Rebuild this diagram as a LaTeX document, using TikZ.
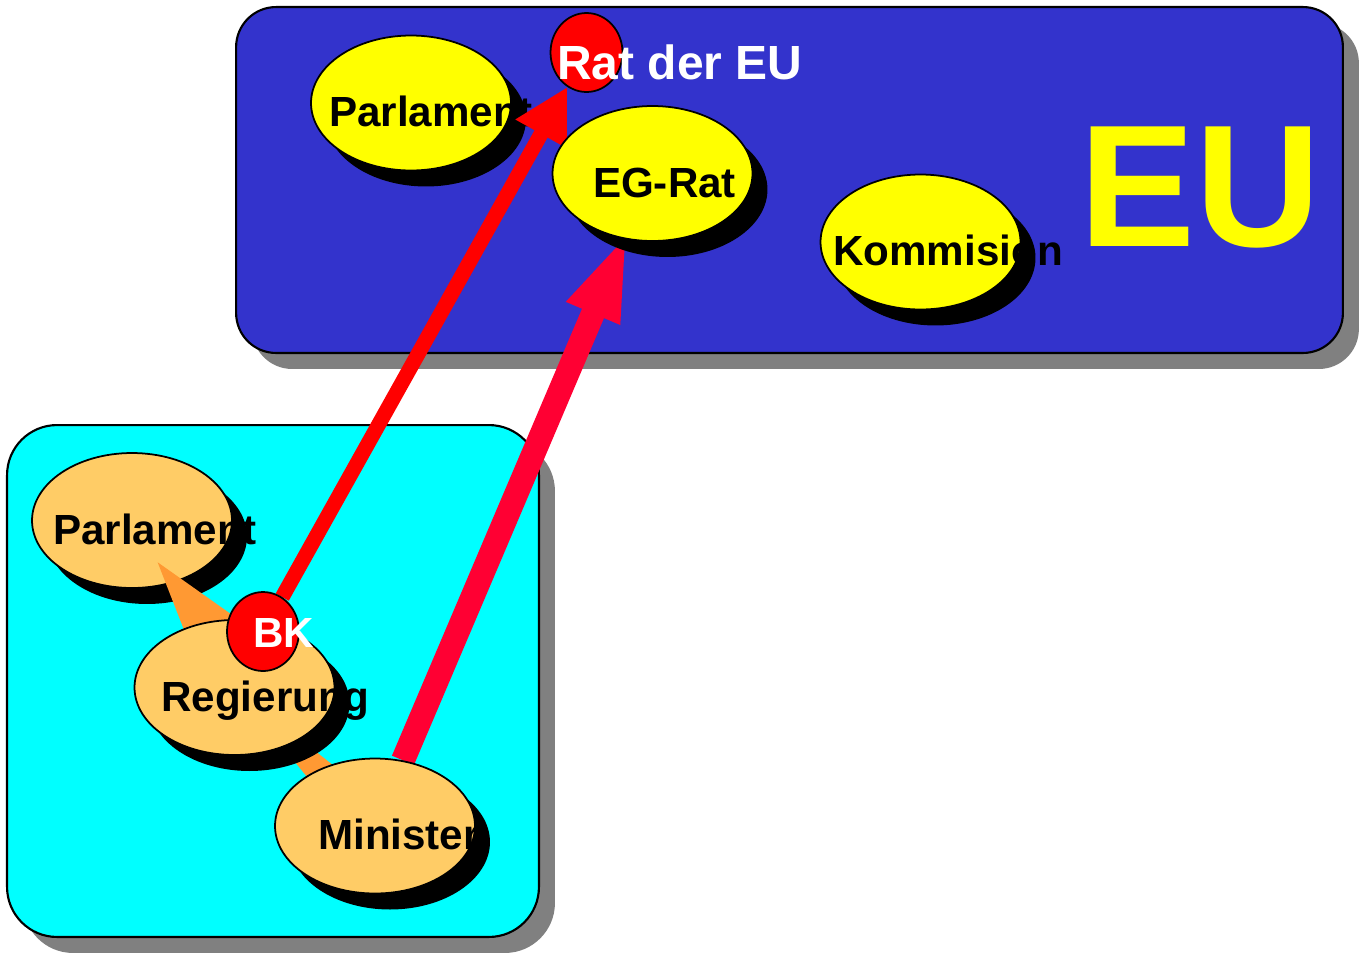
\documentclass[tikz,border=0pt]{standalone}
\usepackage{fontspec}
\setmainfont{Liberation Sans}
\usetikzlibrary{shapes.geometric}
\usetikzlibrary{shadows}
\usetikzlibrary{calc}
\usetikzlibrary{arrows.meta}
\definecolor{eublue}{HTML}{3333CC}
\definecolor{decyan}{HTML}{00FFFF}
\definecolor{euyellow}{HTML}{FFFF00}
\definecolor{natcol}{HTML}{FFCC66}
\definecolor{wedgeor}{HTML}{FF9933}
\definecolor{bkred}{HTML}{FF0000}
\definecolor{minred}{HTML}{FF0033}
\definecolor{boxgray}{HTML}{808080}
\pgfdeclarelayer{bg}
\pgfdeclarelayer{low}
\pgfdeclarelayer{mid}
\pgfsetlayers{bg,low,mid,main}
\tikzset{
    box/.style = {rectangle, draw=black, line width=1.2pt, inner sep=0pt, drop shadow={shadow xshift=0.32cm, shadow yshift=-0.32cm, fill=boxgray, opacity=1}},
    blob/.style = {ellipse, draw=black, line width=1pt, inner sep=0pt, minimum width=4cm, minimum height=2.7cm, drop shadow={shadow xshift=0.3cm, shadow yshift=-0.32cm, fill=black, opacity=1}},
    blobeu/.style = {blob, fill=euyellow},
    blobde/.style = {blob, fill=natcol},
    ratdot/.style = {ellipse, draw=black, line width=1pt, fill=bkred, inner sep=0pt, minimum width=1.44cm, minimum height=1.58cm},
    lbl/.style = {inner sep=0pt, text height=17pt, text depth=0pt, yshift=-0.18cm, font=\fontsize{24}{28}\selectfont\bfseries},
    wlbl/.style = {inner sep=0pt, anchor=base west, text=white, font=\fontsize{#1}{28}\selectfont\bfseries},
    eulbl/.style = {inner sep=0pt, anchor=base, text=euyellow, font=\fontsize{99}{110}\selectfont\bfseries},
    orwedge/.style = {fill=wedgeor},
    edger/.style = {-{Triangle[length=30.6pt,width=31.2pt]}, line width=8.5pt, bkred},
    edgem/.style = {-{Triangle[length=51.6pt,width=28.9pt]}, line width=13.6pt, minred}
}

\begin{document}
\begin{tikzpicture}[x=0.02cm,y=-0.02cm]
\path[use as bounding box] (0,0) rectangle (1364,954);
%
\begin{pgfonlayer}{bg}
\node[box, fill=eublue, rounded corners=0.8cm, minimum width=22.14cm, minimum height=6.92cm] at (789.5,180) (eu) {};
\node[box, fill=decyan, rounded corners=1cm, minimum width=10.64cm, minimum height=10.24cm] at (273,681) (de) {};
\end{pgfonlayer}
%
\begin{pgfonlayer}{low}
\node[blobeu, label={[lbl,xshift=0.4cm]center:Parlament}] at (411,103) (eparl) {};
\node[blobde, label={[lbl,xshift=0.46cm]center:Parlament}] at (132,520.5) (parl) {};
\end{pgfonlayer}
%
\node[blobeu, label={[lbl,xshift=0.24cm]center:EG-Rat}] at (652.5,173.5) (egrat) {};
\node[blobeu, label={[lbl,xshift=0.55cm]center:Kommision}] at (920.5,242) (komm) {};
\node[ratdot] at (586.5,52.5) (rat) {};
\node[wlbl=27.3] at (557,79) (ratlbl) {Rat der EU};
\node[eulbl] at (1200,246) (eulbl) {EU};
\node[blobde, label={[lbl,xshift=0.62cm]center:Regierung}] at (234.5,687.5) (reg) {};
\node[blobde, label={[lbl,xshift=0.48cm]center:Minister}] at (375,826) (mini) {};
\node[ratdot] at (263,631.5) (bk) {};
\node[wlbl=24] at (253,647) (bklbl) {BK};
%
\begin{pgfonlayer}{mid}
\fill[orwedge] ($(parl)!0.25!(reg)$) -- ($(reg)+(48,-37)$) -- ($(reg)+(-21,18)$) -- cycle;
\fill[orwedge] (reg.center) -- ($(mini)!0.44cm!90:(reg)$) -- ($(mini)!0.44cm!-90:(reg)$) -- cycle;
\draw[edger] (bk) -- (rat);
\draw[edgem, shorten >=-0.2cm] (mini) -- (egrat);
\end{pgfonlayer}

\end{tikzpicture}
\end{document}
